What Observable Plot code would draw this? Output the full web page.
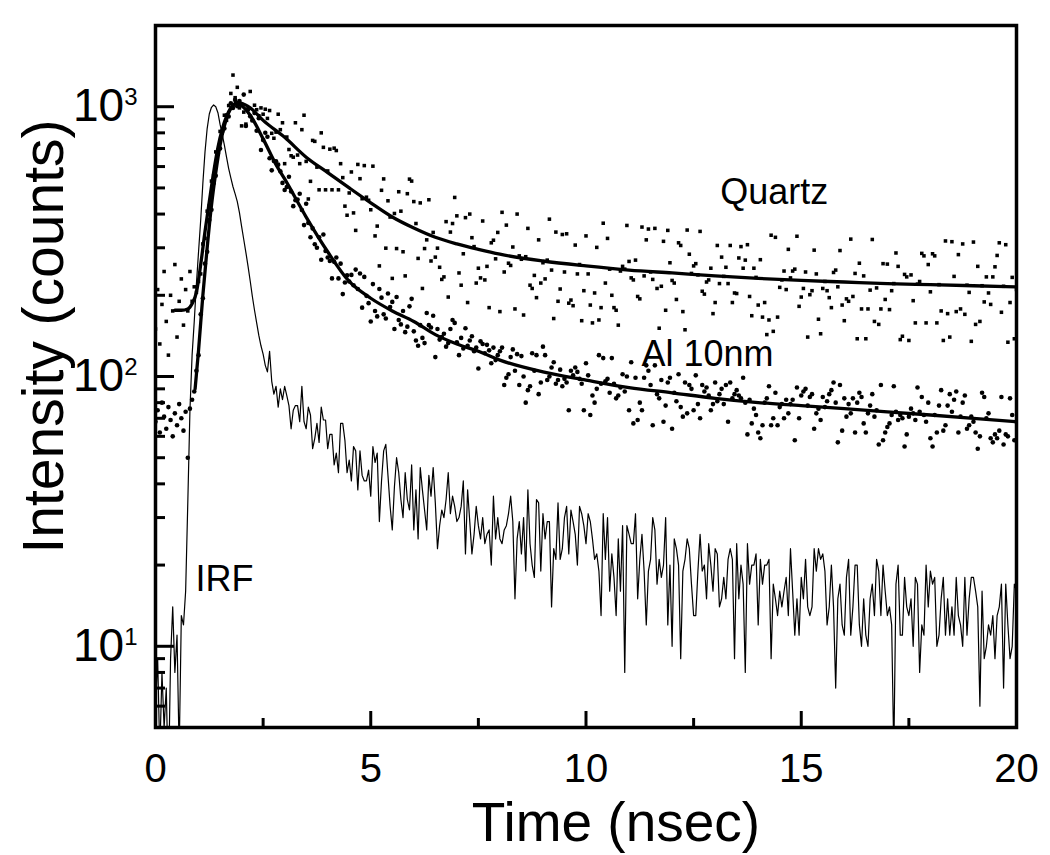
<!DOCTYPE html>
<html>
<head>
<meta charset="utf-8">
<script src="https://cdn.jsdelivr.net/npm/d3@7"></script>
<script src="https://cdn.jsdelivr.net/npm/@observablehq/plot@0.6"></script>
<style>
  html, body { margin: 0; padding: 0; background: #fff; overflow: hidden; }
  #chart svg { display: block; }
</style>
</head>
<body>
<div id="chart"></div>
<script>
// TCSPC channel width (ns); sample i sits at time i * channelWidth
const channelWidth = 0.05;

// Quartz decay (counts), one value per channel, 0 .. 20 ns
const quartzCounts = [
  150,210,132,185,245,160,120,200,175,260,140,190,230,155,210,175,245,190,215,205,
  225,240,310,325,410,430,530,555,680,690,810,800,930,890,1010,1120,1310,1080,1180,990,
  849,955,862,984,1139,888,1013,975,926,990,938,979,905,968,797,764,805,938,822,872,
  615,772,694,658,650,872,662,615,822,930,627,455,529,750,744,597,492,800,707,492,
  578,696,492,702,688,492,615,546,428,396,479,573,404,348,611,541,456,605,462,450,
  415,602,332,361,257,490,540,299,448,390,231,402,298,484,410,290,236,476,539,530,
  445,369,274,440,212,298,321,452,268,342,277,299,254,229,234,375,197,343,369,461,
  394,242,218,285,388,188,400,327,303,222,252,232,377,228,256,180,313,320,273,342,
  174,406,244,364,263,258,302,178,400,280,272,169,278,354,218,212,237,196,321,222,
  264,230,270,383,248,164,343,190,211,336,244,338,187,192,183,307,240,260,161,208,
  332,240,184,158,204,301,162,180,370,222,325,250,200,180,176,155,246,256,250,363,
  267,232,228,270,198,194,358,236,321,352,244,229,354,212,151,216,317,176,348,264,
  227,222,193,313,306,174,149,349,284,241,257,262,238,345,207,202,224,228,252,171,
  188,306,221,277,235,254,221,306,188,204,203,275,303,252,270,308,198,168,252,233,
  184,271,166,188,143,162,334,147,328,166,214,228,246,210,296,232,246,250,331,182,
  197,212,244,140,201,208,294,240,163,144,212,225,208,196,180,243,248,215,293,184,
  161,194,190,323,198,241,138,263,178,236,138,178,209,322,160,213,156,178,262,193,
  261,177,208,221,287,256,137,141,239,234,136,238,191,158,220,225,286,280,158,260,
  206,285,280,158,219,175,136,318,171,140,316,235,174,283,178,310,170,218,205,135,
  315,156,256,160,217,189,234,204,185,234,255,281,313,173,216,308,134,188,233,138,210
];

// Al 10nm decay (counts)
const alCounts = [
  68,75,62,80,71,64,77,69,60,73,66,79,70,63,74,50,76,82,88,105,
  120,170,195,262,290,380,415,520,555,670,700,810,830,930,920,1030,990,1060,1005,1050,
  1020,1109,849,976,921,891,948,815,907,691,752,801,774,644,581,629,628,610,576,522,
  491,504,550,485,428,450,453,476,414,364,437,371,328,354,309,300,328,271,336,292,
  276,268,231,266,276,231,262,202,223,237,225,238,218,249,211,241,180,234,199,187,
  160,220,175,167,211,196,170,164,203,181,189,150,197,162,156,175,146,153,182,194,
  147,136,130,155,139,133,172,155,152,168,118,150,137,140,144,129,133,150,162,158,
  134,120,139,127,151,130,136,141,124,128,107,135,132,122,131,125,112,128,115,120,
  124,128,93,99,102,118,126,105,121,93,119,100,80,89,92,122,105,120,86,95,
  129,120,97,100,108,113,94,97,106,92,98,95,75,105,101,108,104,98,94,75,
  112,101,72,85,80,90,120,94,117,96,98,87,117,94,83,85,91,102,88,100,
  75,113,67,99,69,80,75,99,110,105,93,66,110,86,83,97,68,78,95,99,
  64,87,81,102,77,71,95,73,93,90,75,101,79,70,93,88,91,85,75,79,
  95,81,86,90,79,93,68,95,83,86,89,85,83,99,80,61,82,67,76,72,
  62,59,66,80,83,92,66,70,87,66,77,79,70,82,73,79,82,58,91,70,
  85,88,90,78,84,86,64,73,76,69,84,77,81,86,89,95,80,57,93,63,
  83,71,79,73,83,62,80,87,84,67,62,73,78,86,71,75,56,93,58,62,
  65,67,72,92,74,69,72,70,55,61,71,76,73,69,91,74,84,72,68,80,
  59,55,72,62,78,89,63,66,78,86,74,82,88,62,71,80,85,64,66,71,
  68,62,54,60,87,84,70,73,59,57,61,59,63,84,56,61,60,83,72,58,68
];

// Instrument response function (counts)
const irfCounts = [
  6,9,4,8,5,7,3,9,14,8,11,4,13,12,16,34,75,120,160,220,
  290,380,520,680,830,940,995,1015,1000,950,860,790,720,650,590,545,505,475,445,405,
  360,322,288,256,226,198,176,158,142,130,121,110,104,124,96,86,92,77,90,82,
  92,85,78,64,75,78,78,68,92,68,64,77,72,54,59,67,57,77,69,69,
  54,61,61,47,52,44,67,67,58,44,49,41,55,53,38,53,43,41,41,45,
  36,55,48,52,29,41,53,56,43,33,27,39,50,44,35,30,44,35,32,47,
  27,38,25,46,38,32,27,43,36,46,34,23,28,32,30,35,44,31,36,33,
  29,30,33,41,22,38,29,22,26,33,28,25,30,24,26,27,20,36,25,30,
  25,24,27,28,31,36,29,15,25,29,22,30,19,38,24,20,18,35,34,19,
  31,25,29,29,14,23,21,34,21,23,30,33,22,32,29,26,20,33,31,28,
  24,31,29,25,21,22,19,13,31,21,30,16,22,18,13,25,16,28,8,28,
  26,24,24,31,15,21,26,19,12,19,21,30,27,17,21,18,20,30,12,20,
  10,25,23,20,9,19,21,25,23,17,13,13,19,26,19,20,15,24,20,16,
  23,22,14,15,18,15,21,23,21,9,24,15,20,17,8,24,17,20,20,22,
  12,21,17,20,20,21,9,17,15,13,16,14,16,18,13,23,16,11,15,11,
  18,15,21,14,13,14,23,19,23,21,22,19,12,14,20,14,7,15,17,12,
  11,18,21,11,14,20,20,12,10,15,11,10,15,17,13,21,19,13,20,16,
  13,14,12,4,17,20,11,11,18,14,13,15,10,18,17,8,12,11,20,14,
  19,17,18,10,11,15,18,11,15,11,14,11,18,13,12,10,18,11,15,18,
  18,16,14,6,16,9,10,12,11,13,9,13,14,17,7,17,12,9,10,17,16
];

// Fit curves
const quartzFitTime = [0.45,0.6,0.75,0.85,0.95,1.05,1.15,1.25,1.35,1.45,1.55,1.65,1.75,1.85,1.9,2.0,2.2,2.5,3.0,3.5,4.0,4.5,5.0,5.5,6.0,6.5,7.0,7.5,8,9,10,11,12,13,14,15,16,17,18,19,20];
const quartzFitCounts = [176,176,178,186,205,260,345,445,570,705,825,920,990,1028,1035,1030,990,890,770,650,570,500,440,390,355,328,310,296,284,268,257,248,242,236,231,227,224,221,219,217,215];
const alFitTime = [0.92,1.0,1.1,1.2,1.3,1.4,1.5,1.6,1.7,1.8,1.9,2.0,2.2,2.5,2.8,3.0,3.5,4.0,4.5,5.0,5.5,6.0,6.5,7.0,7.5,8,9,10,11,12,13,14,15,16,17,18,19,20];
const alFitCounts = [90,125,200,300,430,570,720,850,950,1010,1030,1010,930,760,610,540,390,290,225,195,175,160,143,132,124,115,104,97,91,87,83,80,78,76,74,72,70,68];

// Axis ticks
const xTicks = [0, 5, 10, 15, 20];
const xMinorTicks = [2.5, 7.5, 12.5, 17.5];
const yTicks = [10, 100, 1000];
const yMinorTicks = [5,6,7,8,9,20,30,40,50,60,70,80,90,200,300,400,500,600,700,800,900,2000];

// Curve labels (placed at data positions)
const labelText = ["Quartz", "Al 10nm", "IRF"];
const labelTime = [13.12, 11.29, 0.93];
const labelCounts = [437, 109, 16];

const toSeries = arr => arr.map((v, i) => ({t: i * channelWidth, v}));
const zipSeries = (ts, vs) => ts.map((t, i) => ({t, v: vs[i]}));

const quartz = toSeries(quartzCounts);
const al = toSeries(alCounts);
const irf = toSeries(irfCounts);
const quartzFit = zipSeries(quartzFitTime, quartzFitCounts);
const alFit = zipSeries(alFitTime, alFitCounts);
const labels = labelText.map((text, i) => ({text, t: labelTime[i], v: labelCounts[i]}));

const blank = () => "";

const chart = Plot.plot({
  width: 1050,
  height: 855,
  marginLeft: 155,
  marginRight: 34,
  marginTop: 25,
  marginBottom: 128,
  style: {fontFamily: "'Liberation Sans', Arial, sans-serif", color: "#000", background: "#fff"},
  x: {domain: [0, 20], label: null},
  y: {type: "log", domain: [5, 2000], label: null},
  marks: [
    Plot.line(irf, {x: "t", y: "v", stroke: "#000", strokeWidth: 1.2, clip: true}),
    Plot.dot(quartz, {x: "t", y: "v", symbol: "square", r: 2.0, fill: "#000", stroke: "none", clip: true}),
    Plot.dot(al, {x: "t", y: "v", r: 2.3, fill: "#000", stroke: "none", clip: true}),
    Plot.line(quartzFit, {x: "t", y: "v", curve: "monotone-x", stroke: "#000", strokeWidth: 3.3, clip: true}),
    Plot.line(alFit, {x: "t", y: "v", curve: "monotone-x", stroke: "#000", strokeWidth: 3.3, clip: true}),
    Plot.text(labels, {x: "t", y: "v", text: "text", textAnchor: "start", lineAnchor: "bottom", fontSize: 36, fill: "#000"}),
    Plot.axisX({ticks: xTicks, tickSize: -16, strokeWidth: 3, tickFormat: blank, label: null}),
    Plot.axisX({ticks: xMinorTicks, tickSize: -9, strokeWidth: 3, tickFormat: blank, label: null}),
    Plot.axisX({ticks: xTicks, tickSize: 0, tickPadding: 26, fontSize: 40, tickFormat: d => String(d), label: null}),
    Plot.axisY({ticks: yTicks, tickSize: -19, strokeWidth: 3, tickFormat: blank, label: null}),
    Plot.axisY({ticks: yMinorTicks, tickSize: -10, strokeWidth: 3, tickFormat: blank, label: null}),
    Plot.axisY({ticks: yTicks, tickSize: 0, tickPadding: 18, fontSize: 46, tickFormat: d => "10^" + Math.round(Math.log10(d)), label: null}),
    Plot.frame({stroke: "#000", strokeWidth: 3.5}),
    Plot.text(["Time (nsec)"], {frameAnchor: "bottom", textAnchor: "middle", dx: 30, dy: 113, lineAnchor: "bottom", fontSize: 55, fill: "#000"}),
    Plot.text(["Intensity (counts)"], {frameAnchor: "left", textAnchor: "middle", lineAnchor: "middle", rotate: -90, dx: -111, dy: -40, fontSize: 57, fill: "#000"})
  ]
});

// Superscript exponents on the y tick labels
d3.select(chart).selectAll('g[aria-label="y-axis tick label"] text').each(function () {
  const parts = this.textContent.split("^");
  if (parts.length === 2) {
    const sel = d3.select(this);
    sel.text(parts[0]);
    sel.append("tspan").attr("dy", -16).attr("font-size", 24).text(parts[1]);
  }
});

document.getElementById("chart").appendChild(chart);
</script>
</body>
</html>
